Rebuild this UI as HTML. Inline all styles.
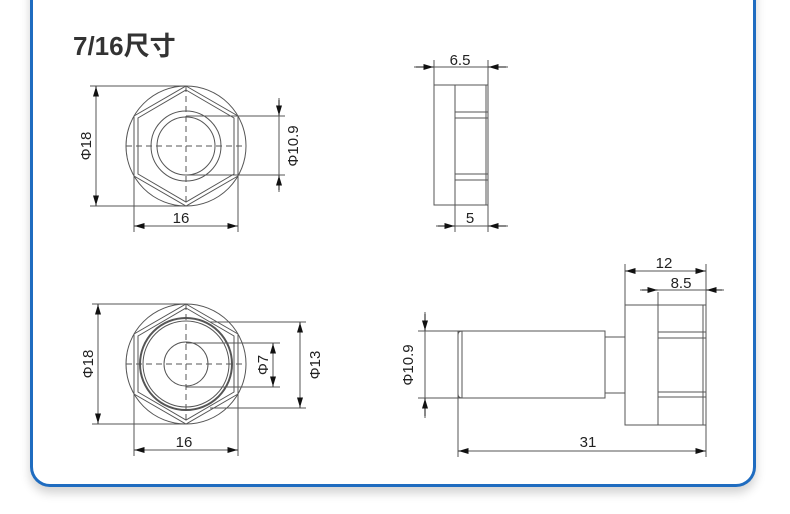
<!DOCTYPE html>
<html><head><meta charset="utf-8"><style>
html,body{margin:0;padding:0;background:#fff;}
body{width:790px;height:514px;overflow:hidden;position:relative;font-family:"Liberation Sans","Noto Sans CJK SC",sans-serif;}
.card{position:absolute;left:30px;top:-30px;width:720px;height:514px;border:3px solid #1f6cc0;border-top:none;border-radius:0 0 20px 20px;box-shadow:0 6px 10px rgba(0,0,0,0.18);background:#fff;}
.title{position:absolute;left:73px;top:26px;font-size:26px;font-weight:bold;color:#333;font-family:"Liberation Sans","Noto Sans CJK SC",sans-serif;}
svg{position:absolute;left:0;top:0;}
</style></head><body>
<div class="card"></div>
<div class="title">7/16尺寸</div>
<svg width="790" height="514" viewBox="0 0 790 514">
<defs>
<marker id="a" viewBox="0 0 10 6" refX="10" refY="3" markerWidth="10" markerHeight="6" markerUnits="userSpaceOnUse" orient="auto"><path d="M0,0 L10,3 L0,6 z" fill="#111"/></marker>
</defs>
<g fill="none" stroke="#555" stroke-width="1">
<circle cx="186" cy="146" r="60"/>
<polygon points="186,86 238,116 238,176 186,206 134,176 134,116"/>
<polygon points="186,90 234,118 234,174 186,202 138,174 138,118"/>
<circle cx="186" cy="146" r="35"/>
<circle cx="186" cy="146" r="29"/>
<line x1="186" y1="86" x2="186" y2="206" stroke-dasharray="6,4"/>
<line x1="126" y1="146" x2="246" y2="146" stroke-dasharray="6,4"/>
<line x1="90" y1="86" x2="186" y2="86"/><line x1="90" y1="206" x2="186" y2="206"/>
<line x1="96" y1="86" x2="96" y2="206"/>
<line x1="186" y1="116" x2="285" y2="116"/><line x1="186" y1="175" x2="285" y2="175"/>
<line x1="279" y1="98" x2="279" y2="192"/>
<line x1="134" y1="176" x2="134" y2="232"/><line x1="238" y1="176" x2="238" y2="232"/>
<line x1="134" y1="226" x2="238" y2="226"/>
<circle cx="186" cy="364" r="60"/>
<polygon points="186,304 238,334 238,394 186,424 134,394 134,334"/>
<polygon points="186,308 234,336 234,392 186,420 138,392 138,336"/>
<circle cx="186" cy="364" r="46" stroke-width="2"/>
<circle cx="186" cy="364" r="43"/>
<circle cx="186" cy="364" r="22"/>
<line x1="186" y1="304" x2="186" y2="424" stroke-dasharray="6,4"/>
<line x1="126" y1="364" x2="246" y2="364" stroke-dasharray="6,4"/>
<line x1="92" y1="304" x2="186" y2="304"/><line x1="92" y1="424" x2="186" y2="424"/>
<line x1="98" y1="304" x2="98" y2="424"/>
<line x1="186" y1="343" x2="280" y2="343"/><line x1="186" y1="387" x2="280" y2="387"/>
<line x1="273" y1="343" x2="273" y2="387"/>
<line x1="210" y1="322" x2="306" y2="322"/><line x1="210" y1="408" x2="306" y2="408"/>
<line x1="300" y1="322" x2="300" y2="408"/>
<line x1="134" y1="394" x2="134" y2="456"/><line x1="238" y1="394" x2="238" y2="456"/>
<line x1="134" y1="450" x2="238" y2="450"/>
<rect x="434" y="85" width="54" height="120"/>
<line x1="455" y1="85" x2="455" y2="205"/>
<line x1="486" y1="85" x2="486" y2="205"/>
<line x1="455" y1="112" x2="488" y2="112"/><line x1="455" y1="118" x2="488" y2="118"/>
<line x1="455" y1="174" x2="488" y2="174"/><line x1="455" y1="180" x2="488" y2="180"/>
<line x1="434" y1="60" x2="434" y2="85"/><line x1="488" y1="60" x2="488" y2="232"/>
<line x1="414" y1="67" x2="508" y2="67"/>
<line x1="455" y1="205" x2="455" y2="232"/>
<line x1="436" y1="226" x2="508" y2="226"/>
<rect x="458" y="331" width="147" height="67"/>
<path d="M462,331 Q458,331 458,335 L458,394 Q458,398 462,398"/>
<line x1="462" y1="331" x2="462" y2="398"/>
<rect x="605" y="337" width="20" height="56"/>
<rect x="625" y="305" width="81" height="120"/>
<line x1="658" y1="292" x2="658" y2="425"/>
<line x1="703" y1="305" x2="703" y2="425"/>
<line x1="658" y1="332" x2="706" y2="332"/><line x1="658" y1="338" x2="706" y2="338"/>
<line x1="658" y1="392" x2="706" y2="392"/><line x1="658" y1="397" x2="706" y2="397"/>
<line x1="625" y1="264" x2="625" y2="305"/><line x1="706" y1="264" x2="706" y2="457"/>
<line x1="625" y1="271" x2="706" y2="271"/>
<line x1="640" y1="290" x2="724" y2="290"/>
<line x1="418" y1="331" x2="458" y2="331"/><line x1="418" y1="398" x2="458" y2="398"/>
<line x1="425" y1="312" x2="425" y2="418"/>
<line x1="458" y1="398" x2="458" y2="457"/>
<line x1="458" y1="451" x2="706" y2="451"/>
</g>
<g stroke="#111" stroke-width="1" fill="none">
<line x1="96" y1="96" x2="96" y2="86.5" marker-end="url(#a)"/><line x1="96" y1="196" x2="96" y2="205.5" marker-end="url(#a)"/>
<line x1="279" y1="100" x2="279" y2="115.5" marker-end="url(#a)"/><line x1="279" y1="190" x2="279" y2="175.5" marker-end="url(#a)"/>
<line x1="144" y1="226" x2="134.5" y2="226" marker-end="url(#a)"/><line x1="228" y1="226" x2="237.5" y2="226" marker-end="url(#a)"/>
<line x1="98" y1="314" x2="98" y2="304.5" marker-end="url(#a)"/><line x1="98" y1="414" x2="98" y2="423.5" marker-end="url(#a)"/>
<line x1="273" y1="353" x2="273" y2="343.5" marker-end="url(#a)"/><line x1="273" y1="377" x2="273" y2="386.5" marker-end="url(#a)"/>
<line x1="300" y1="332" x2="300" y2="322.5" marker-end="url(#a)"/><line x1="300" y1="398" x2="300" y2="407.5" marker-end="url(#a)"/>
<line x1="144" y1="450" x2="134.5" y2="450" marker-end="url(#a)"/><line x1="228" y1="450" x2="237.5" y2="450" marker-end="url(#a)"/>
<line x1="416" y1="67" x2="433.5" y2="67" marker-end="url(#a)"/><line x1="506" y1="67" x2="488.5" y2="67" marker-end="url(#a)"/>
<line x1="438" y1="226" x2="454.5" y2="226" marker-end="url(#a)"/><line x1="506" y1="226" x2="488.5" y2="226" marker-end="url(#a)"/>
<line x1="635" y1="271" x2="625.5" y2="271" marker-end="url(#a)"/><line x1="696" y1="271" x2="705.5" y2="271" marker-end="url(#a)"/>
<line x1="642" y1="290" x2="657.5" y2="290" marker-end="url(#a)"/><line x1="722" y1="290" x2="706.5" y2="290" marker-end="url(#a)"/>
<line x1="425" y1="314" x2="425" y2="330.5" marker-end="url(#a)"/><line x1="425" y1="416" x2="425" y2="398.5" marker-end="url(#a)"/>
<line x1="468" y1="451" x2="458.5" y2="451" marker-end="url(#a)"/><line x1="696" y1="451" x2="705.5" y2="451" marker-end="url(#a)"/>
</g>
<g fill="#222" font-family="Liberation Sans, sans-serif" font-size="15" text-anchor="middle">
<text x="181" y="223">16</text>
<text x="184" y="447">16</text>
<text x="460" y="65">6.5</text>
<text x="470" y="223">5</text>
<text x="664" y="268">12</text>
<text x="681" y="288">8.5</text>
<text x="588" y="447">31</text>
<text transform="translate(91,146) rotate(-90)">Φ18</text>
<text transform="translate(93,364) rotate(-90)">Φ18</text>
<text transform="translate(298,146) rotate(-90)">Φ10.9</text>
<text transform="translate(268,365) rotate(-90)">Φ7</text>
<text transform="translate(320,365) rotate(-90)">Φ13</text>
<text transform="translate(413,365) rotate(-90)">Φ10.9</text>
</g>
</svg>
</body></html>
